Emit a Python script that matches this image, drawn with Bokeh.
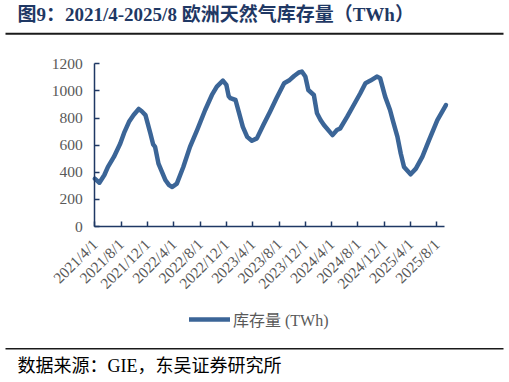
import datetime as dt
from bokeh.plotting import figure
from bokeh.models import (FixedTicker, Label, BoxAnnotation, Legend, LegendItem,
                          ColumnDataSource, Range1d)
from bokeh.embed import file_html
from bokeh.resources import INLINE

# ---------------- data ----------------
dates = [
    "2021-04-01", "2021-04-22", "2021-05-15", "2021-06-01", "2021-06-28", "2021-07-28",
    "2021-08-15", "2021-09-07", "2021-09-28", "2021-10-22", "2021-11-05", "2021-11-22",
    "2021-12-15", "2021-12-28", "2022-01-06", "2022-01-22", "2022-02-22", "2022-03-10",
    "2022-03-25", "2022-04-15", "2022-05-15", "2022-06-15", "2022-07-18", "2022-08-25",
    "2022-09-25", "2022-10-18", "2022-11-15", "2022-12-01", "2022-12-12", "2022-12-20",
    "2023-01-13", "2023-01-28", "2023-02-15", "2023-03-06", "2023-03-28", "2023-04-20",
    "2023-05-20", "2023-06-20", "2023-07-20", "2023-08-25", "2023-09-20", "2023-10-10",
    "2023-11-01", "2023-11-15", "2023-12-01", "2023-12-15", "2024-01-10", "2024-01-25",
    "2024-02-10", "2024-02-25", "2024-04-05", "2024-04-25", "2024-05-10", "2024-06-12",
    "2024-07-12", "2024-08-12", "2024-09-05", "2024-09-28", "2024-10-28", "2024-11-12",
    "2024-12-05", "2024-12-28", "2025-01-12", "2025-02-01", "2025-02-15", "2025-03-01",
    "2025-04-01", "2025-04-25", "2025-05-25", "2025-06-25", "2025-08-03", "2025-09-12",
]
storage_twh = [
    353, 323, 380, 440, 513, 612,
    690, 772, 822, 867, 850, 822,
    686, 605, 587, 464, 341, 305,
    291, 316, 439, 587, 711, 859,
    970, 1032, 1076, 1044, 960, 946,
    933, 847, 735, 661, 632, 650,
    748, 847, 946, 1057, 1081, 1110,
    1136, 1143, 1106, 1007, 970, 835,
    785, 748, 674, 711, 723, 810,
    896, 983, 1057, 1076, 1106, 1094,
    958, 859, 772, 661, 538, 439,
    385, 427, 513, 637, 785, 896,
]
tick_labels = ["2021/4/1", "2021/8/1", "2021/12/1", "2022/4/1", "2022/8/1", "2022/12/1",
               "2023/4/1", "2023/8/1", "2023/12/1", "2024/4/1", "2024/8/1", "2024/12/1",
               "2025/4/1", "2025/8/1"]
y_ticks = [0, 200, 400, 600, 800, 1000, 1200]
series_name = "库存量 (TWh)"
title_text = "图9：2021/4-2025/8 欧洲天然气库存量（TWh）"
source_text = "数据来源：GIE，东吴证券研究所"

# month offset from 2021-04-01 (equal spacing per month, like a category date axis)
def month_offset(s):
    d = dt.date.fromisoformat(s)
    nxt = dt.date(d.year + (d.month // 12), d.month % 12 + 1, 1)
    days = (nxt - dt.date(d.year, d.month, 1)).days
    return (d.year - 2021) * 12 + (d.month - 4) + (d.day - 1) / days

xs = [month_offset(s) for s in dates]
tick_pos = []
for t in tick_labels:
    yy, mm, dd = t.split("/")
    tick_pos.append(month_offset(f"{yy}-{int(mm):02d}-{int(dd):02d}"))

# ---------------- layout constants (canvas pixels, from top-left) ----------------
W, H = 509, 382
AL, AR, AT, AB = 94.3, 444.0, 63.3, 226.0   # plotting area (axes box)
XMAX, YMAX = 53.15, 1200
NAVY = "#1F3864"
LINE = "#3B6597"
RULE = "#1a1a1a"
SERIF = "Liberation Serif, Noto Sans CJK SC"

kx = (AR - AL) / XMAX
ky = (AB - AT) / YMAX
x_range = Range1d(-AL / kx, XMAX + (W - AR) / kx)
y_range = Range1d(-(H - AB) / ky, YMAX + AT / ky)

p = figure(width=W, height=H, output_backend="svg", toolbar_location=None,
           x_range=x_range, y_range=y_range,
           min_border=0, min_border_left=0, min_border_right=0,
           min_border_top=0, min_border_bottom=0)
p.outline_line_color = None
p.grid.visible = False
p.background_fill_color = "white"
p.border_fill_color = "white"

src = ColumnDataSource(dict(x=xs, y=storage_twh))
r = p.line("x", "y", source=src, line_color=LINE, line_width=4.5,
           line_join="round", line_cap="round")

for ax in (p.xaxis[0], p.yaxis[0]):
    ax.axis_line_color = NAVY
    ax.axis_line_width = 1.5
    ax.major_tick_line_color = NAVY
    ax.major_tick_line_width = 1.5
    ax.major_tick_in = 5
    ax.major_tick_out = 0
    ax.minor_tick_line_color = None
    ax.major_label_text_font = SERIF
    ax.major_label_text_color = "#595959"
    ax.major_label_text_font_size = "15.5px"

p.yaxis.ticker = FixedTicker(ticks=y_ticks)
p.yaxis.bounds = (0, YMAX)
p.yaxis.fixed_location = 0
p.yaxis.major_label_standoff = 12
p.xaxis.ticker = FixedTicker(ticks=tick_pos)
p.xaxis.bounds = (0, XMAX)
p.xaxis.fixed_location = 0
p.xaxis.major_label_overrides = {tp: lab for tp, lab in zip(tick_pos, tick_labels)}
p.xaxis.major_label_orientation = 0.785398
p.xaxis.major_label_standoff = 15

# screen units are measured from the frame's bottom-left; frame == canvas here
def sx(x):
    return x

def sy(y):
    return H - y

legend = Legend(items=[LegendItem(label=series_name, renderers=[r])],
                location=(sx(189), sy(331)), glyph_width=41, glyph_height=18,
                label_text_font=SERIF, label_text_font_size="16px",
                label_text_color="#595959", label_standoff=3,
                padding=0, margin=0, border_line_color=None,
                background_fill_alpha=0)
p.add_layout(legend, "center")

p.add_layout(Label(x=sx(17), y=sy(14), x_units="screen", y_units="screen", text=title_text,
                   text_font=SERIF, text_font_size="19px", text_font_style="bold",
                   text_color=NAVY, text_baseline="middle"))
p.add_layout(BoxAnnotation(left=sx(5), right=sx(503), top=sy(32.3), bottom=sy(34.3),
                           left_units="screen", right_units="screen",
                           top_units="screen", bottom_units="screen",
                           fill_color=RULE, fill_alpha=1, line_color=None))
p.add_layout(BoxAnnotation(left=sx(5), right=sx(503), top=sy(347.5), bottom=sy(349),
                           left_units="screen", right_units="screen",
                           top_units="screen", bottom_units="screen",
                           fill_color=RULE, fill_alpha=1, line_color=None))
p.add_layout(Label(x=sx(17), y=sy(365), x_units="screen", y_units="screen", text=source_text,
                   text_font=SERIF, text_font_size="18px", text_color="black",
                   text_baseline="middle"))

open("out.html", "w").write(file_html(p, INLINE))
